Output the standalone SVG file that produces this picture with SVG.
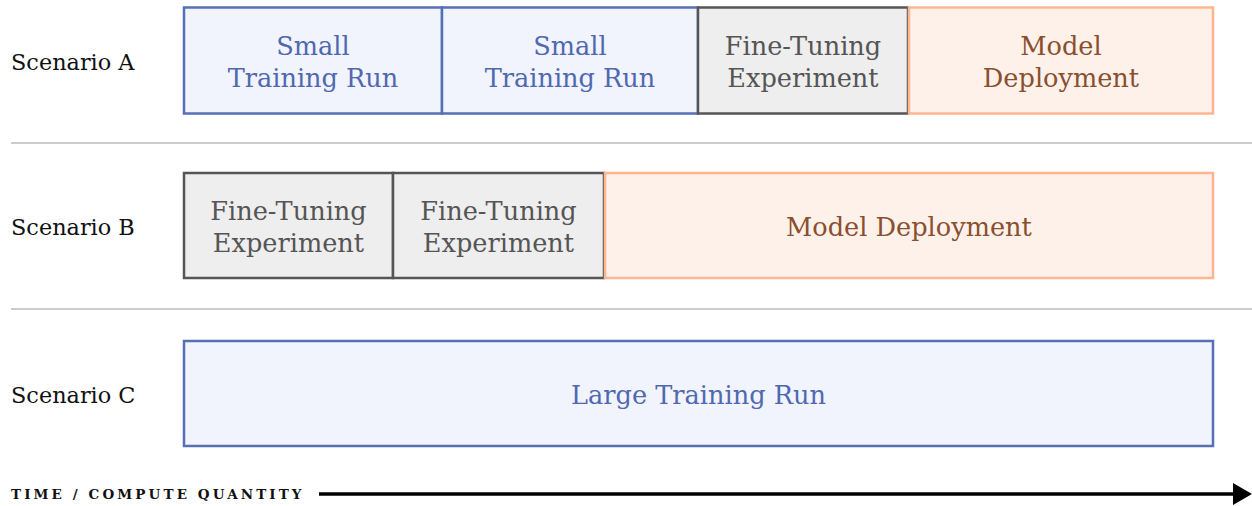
<svg xmlns="http://www.w3.org/2000/svg" width="1252" height="506" viewBox="0 0 1252 506">
<style>
.lbl{font-family:"DejaVu Serif","Liberation Serif",serif;font-size:22.4px;fill:#111}
.bt{font-family:"DejaVu Serif","Liberation Serif",serif;font-size:25.6px;text-anchor:middle}
.blue rect{fill:#f1f4fc;stroke:#5670b6;stroke-width:2.5}
.blue text{fill:#5068b0}
.gray rect{fill:#eeeeee;stroke:#555;stroke-width:2.5}
.gray text{fill:#555}
.orange rect{fill:#fdf1ea;stroke:#ffb690;stroke-width:2.5}
.orange text{fill:#8a4f2e}
.sep{stroke:#cccccc;stroke-width:2}
.axis{font-family:"DejaVu Serif","Liberation Serif",serif;font-size:13.5px;font-weight:bold;letter-spacing:3.1px;fill:#111}
</style>
<defs>
<marker id="ah" markerWidth="19" markerHeight="22" refX="0" refY="11" orient="auto" markerUnits="userSpaceOnUse" viewBox="0 0 19 22">
<path d="M0,0 L19,11 L0,22 Z" fill="#000"/>
</marker>
</defs>
<g id="labels">
<text class="lbl" x="11" y="70">Scenario A</text>
<text class="lbl" x="11" y="235">Scenario B</text>
<text class="lbl" x="11" y="403">Scenario C</text>
</g>
<g id="separators">
<line class="sep" x1="11" y1="143" x2="1252" y2="143"/>
<line class="sep" x1="11" y1="309" x2="1252" y2="309"/>
</g>
<g id="a1" class="blue"><rect x="184" y="7.5" width="258" height="106"/><text class="bt" x="313" y="55">Small</text><text class="bt" x="313" y="87">Training Run</text></g>
<g id="a2" class="blue"><rect x="442" y="7.5" width="256" height="106"/><text class="bt" x="570" y="55">Small</text><text class="bt" x="570" y="87">Training Run</text></g>
<g id="a3" class="gray"><rect x="698" y="7.5" width="210" height="106"/><text class="bt" x="803" y="55">Fine-Tuning</text><text class="bt" x="803" y="87">Experiment</text></g>
<g id="a4" class="orange"><rect x="909" y="7.5" width="304" height="106"/><text class="bt" x="1061" y="55">Model</text><text class="bt" x="1061" y="87">Deployment</text></g>
<g id="b1" class="gray"><rect x="184" y="173" width="209" height="105"/><text class="bt" x="288.5" y="220">Fine-Tuning</text><text class="bt" x="288.5" y="252">Experiment</text></g>
<g id="b2" class="gray"><rect x="393" y="173" width="211" height="105"/><text class="bt" x="498.5" y="220">Fine-Tuning</text><text class="bt" x="498.5" y="252">Experiment</text></g>
<g id="b3" class="orange"><rect x="605" y="173" width="608" height="105"/><text class="bt" x="909" y="236">Model Deployment</text></g>
<g id="c1" class="blue"><rect x="184" y="341" width="1029" height="105"/><text class="bt" x="698.5" y="404">Large Training Run</text></g>
<g id="axis">
<text class="axis" x="11" y="499">TIME / COMPUTE QUANTITY</text>
</g>
<g id="connectors">
<line x1="319" y1="494" x2="1233" y2="494" stroke="#000" stroke-width="3.5" marker-end="url(#ah)"/>
</g>
</svg>
